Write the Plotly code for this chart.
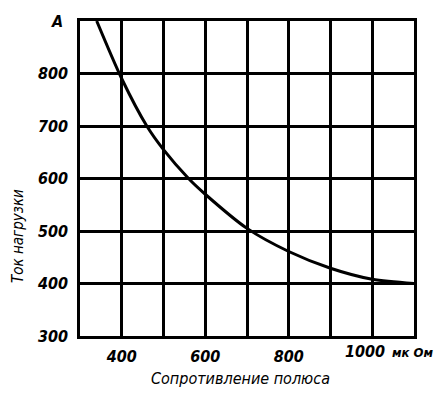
import plotly.graph_objects as go

# Data
resistance = [340, 400, 460, 500, 560, 600, 700, 800, 900, 1000, 1100]  # мкОм
current = [900, 790, 700, 655, 600, 570, 505, 461, 429, 408, 400]       # A

x_tick_vals = [300, 400, 500, 600, 700, 800, 900, 1000, 1100]
x_tick_text = ["", "400", "", "600", "", "800", "", "", ""]
y_tick_vals = [300, 400, 500, 600, 700, 800]
y_tick_text = ["300", "400", "500", "600", "700", "800"]
last_x_label = "1000"
x_unit = "мк Ом"
y_unit = "A"

FONT = "DejaVu Sans Condensed, DejaVu Sans"
tick_font = dict(family=FONT, size=16, color="black", style="italic", weight="bold")

fig = go.Figure()
fig.add_trace(go.Scatter(
    x=resistance, y=current, mode="lines",
    line=dict(color="black", width=3, shape="spline", smoothing=0.8),
    hoverinfo="skip", cliponaxis=True,
))

# The page body adds an 8px offset; compensate so the plot lands where the reference has it
OFF = 8
W, H = 443 - OFF, 393 - OFF
PL, PR, PT, PB = 80, 414, 18, 336
L = PL - OFF
T = PT - OFF
R = 443 - PR
B = 393 - PB

fig.update_layout(
    width=W, height=H,
    margin=dict(l=L, r=R, t=T, b=B),
    paper_bgcolor="white", plot_bgcolor="white",
    showlegend=False,
    xaxis=dict(
        range=[300, 1100], tickvals=x_tick_vals, ticktext=x_tick_text,
        showgrid=True, gridcolor="black", gridwidth=2.5,
        showline=True, linecolor="black", linewidth=2.5, mirror=True,
        zeroline=False, ticks="", tickfont=tick_font, ticklabelstandoff=4,
        fixedrange=True,
    ),
    yaxis=dict(
        range=[300, 900], tickvals=y_tick_vals, ticktext=y_tick_text,
        showgrid=True, gridcolor="black", gridwidth=2.5,
        showline=True, linecolor="black", linewidth=2.5, mirror=True,
        zeroline=False, ticks="", tickfont=tick_font, ticklabelstandoff=6,
        fixedrange=True,
    ),
)

pw = PR - PL
ph = PB - PT

def px_x(p):
    return (p - PL) / pw

def px_y(p):
    return (PB - p) / ph

# Unit on top of y axis
fig.add_annotation(text=y_unit, xref="paper", yref="paper", x=px_x(57), y=px_y(18),
                   xanchor="center", yanchor="middle", showarrow=False, font=tick_font)
# Last x label with unit
fig.add_annotation(text=last_x_label, xref="paper", yref="paper", x=px_x(387), y=px_y(352),
                   xanchor="right", yanchor="middle", showarrow=False, font=tick_font)
fig.add_annotation(text=x_unit, xref="paper", yref="paper", x=px_x(390), y=px_y(353),
                   xanchor="left", yanchor="middle", showarrow=False,
                   font=dict(family=FONT, size=13, color="black", style="italic", weight="bold"))
# X axis title
fig.add_annotation(text="Сопротивление полюса", xref="paper", yref="paper",
                   x=px_x(240), y=px_y(379), xanchor="center", yanchor="middle",
                   showarrow=False,
                   font=dict(family=FONT, size=16, color="black", style="italic", weight="normal"))
# Y axis title
fig.add_annotation(text="Ток нагрузки", xref="paper", yref="paper",
                   x=px_x(18), y=px_y(235), xanchor="center", yanchor="middle",
                   textangle=-90, showarrow=False,
                   font=dict(family=FONT, size=15, color="black", style="italic", weight="normal"))

fig.write_html("out.html")
